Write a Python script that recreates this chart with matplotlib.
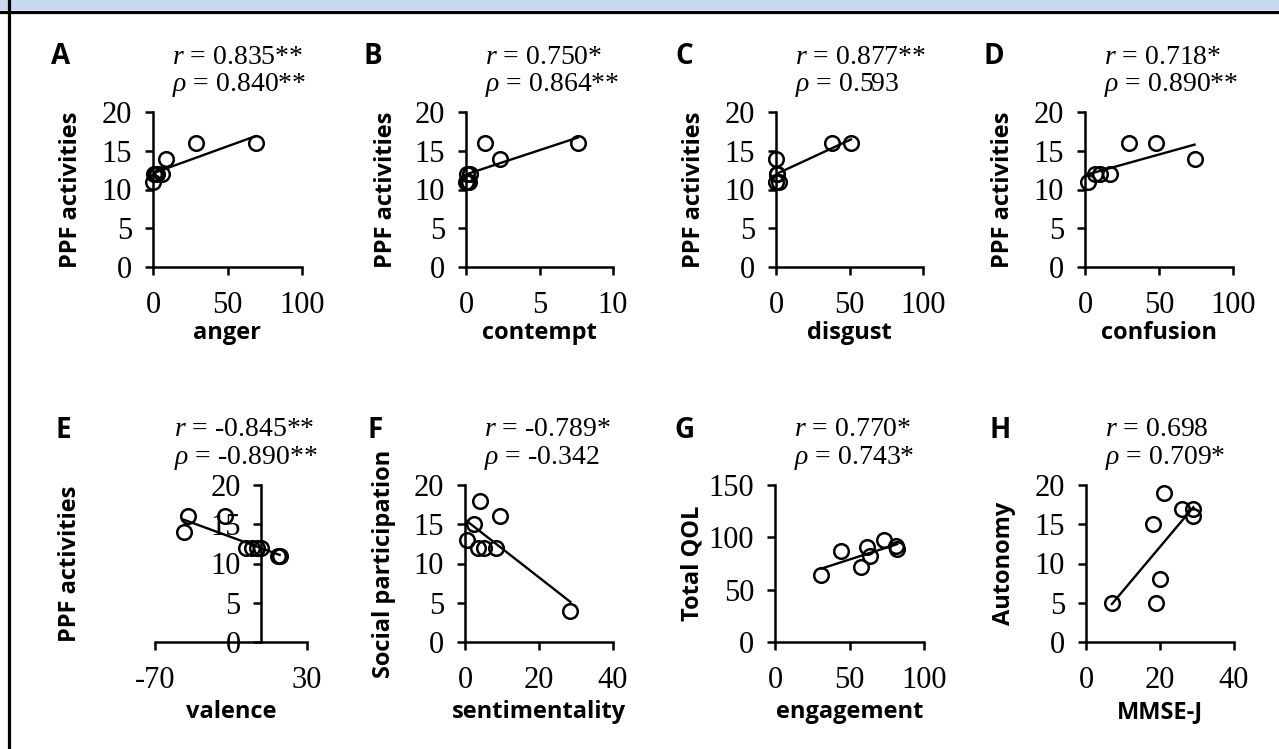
import numpy as np
import matplotlib.pyplot as plt
from matplotlib.patches import Rectangle
from matplotlib.lines import Line2D

plt.rcParams['mathtext.fontset'] = 'custom'
plt.rcParams['mathtext.rm'] = 'Liberation Serif'
plt.rcParams['mathtext.it'] = 'Liberation Serif:italic'
plt.rcParams['axes.unicode_minus'] = False

# panel data
letters = ['A', 'B', 'C', 'D', 'E', 'F', 'G', 'H']
xlabels = ['anger', 'contempt', 'disgust', 'confusion',
           'valence', 'sentimentality', 'engagement', 'MMSE-J']
ylabels = ['PPF activities', 'PPF activities', 'PPF activities', 'PPF activities',
           'PPF activities', 'Social participation', 'Total QOL', 'Autonomy']
r_vals = ['0.835**', '0.750*', '0.877**', '0.718*', '-0.845**', '-0.789*', '0.770*', '0.698']
rho_vals = ['0.840**', '0.864**', '0.593', '0.890**', '-0.890**', '-0.342', '0.743*', '0.709*']

x_anger = [0, 1, 2, 3, 6, 9, 29, 69]
y_anger = [11, 12, 12, 12, 12, 14, 16, 16]
x_contempt = [0, 0.05, 0.1, 0.2, 0.3, 1.3, 2.3, 7.6]
y_contempt = [11, 11, 12, 11, 12, 16, 14, 16]
x_disgust = [0, 0, 0.5, 1, 2, 38, 51]
y_disgust = [14, 11, 12, 12, 11, 16, 16]
x_confusion = [2, 7, 10, 17, 30, 48, 74]
y_confusion = [11, 12, 12, 12, 16, 16, 14]
x_valence = [-51, -48, -24, -10, -6, -3, 0, 11, 12]
y_valence = [14, 16, 16, 12, 12, 12, 12, 11, 11]
x_sentiment = [0.5, 2.3, 3.5, 4.1, 5, 8.3, 9.5, 28.5]
y_social = [13, 15, 12, 18, 12, 12, 16, 4]
x_engagement = [31, 44, 58, 62, 64, 73, 81, 82]
y_qol = [64, 87, 72, 91, 82, 97, 92, 89]
x_mmse = [7, 18, 19, 20, 21, 26, 29, 29]
y_autonomy = [5, 15, 5, 8, 19, 17, 17, 16]

xs = [x_anger, x_contempt, x_disgust, x_confusion, x_valence, x_sentiment, x_engagement, x_mmse]
ys = [y_anger, y_contempt, y_disgust, y_confusion, y_valence, y_social, y_qol, y_autonomy]

xticks = [[0, 50, 100], [0, 5, 10], [0, 50, 100], [0, 50, 100],
          [-70, 30], [0, 20, 40], [0, 50, 100], [0, 20, 40]]
yticks = [[0, 5, 10, 15, 20]] * 6 + [[0, 50, 100, 150], [0, 5, 10, 15, 20]]

W, H = 1279, 749
fig = plt.figure(figsize=(W / 100, H / 100), dpi=100)

# header band and frame
fig.add_artist(Rectangle((0, 1 - 10 / H), 1, 10 / H, transform=fig.transFigure,
                         facecolor='#c6d9f1', edgecolor='none'))
fig.add_artist(Line2D([0, 1], [1 - 11.5 / H] * 2, transform=fig.transFigure, color='black', lw=2.3))
fig.add_artist(Line2D([8.5 / W] * 2, [0, 1], transform=fig.transFigure, color='black', lw=2.3))

# axes boxes in pixels: left, top, width, height
boxes = [(153, 112, 149, 155), (466, 112, 147, 155), (776, 112, 147, 155), (1085, 112, 148, 155),
         (155, 485, 152, 157), (465, 485, 148, 157), (775, 485, 149, 157), (1086, 485, 148, 157)]
letter_x = [51, 364, 675, 984, 56, 367, 674, 989]
ylab_off = [82, 80, 82, 82, 85, 81, 83, 82]

for i in range(8):
    left, top, w, h = boxes[i]
    ax = fig.add_axes([left / W, 1 - (top + h) / H, w / W, h / H])
    x = np.array(xs[i], dtype=float)
    y = np.array(ys[i], dtype=float)
    k, b = np.polyfit(x, y, 1)
    xx = np.array([x.min(), x.max()])
    ax.plot(xx, k * xx + b, color='black', lw=1.7, zorder=2)
    ax.plot(x, y, 'o', ms=10.5, mfc='none', mec='black', mew=1.8, zorder=3, clip_on=False)

    ax.set_xlim(xticks[i][0], xticks[i][-1])
    ax.set_ylim(yticks[i][0], yticks[i][-1])
    ax.set_xticks(xticks[i])
    ax.set_yticks(yticks[i])
    for s in ['top', 'right']:
        ax.spines[s].set_visible(False)
    for s in ['left', 'bottom']:
        ax.spines[s].set_linewidth(1.8)
    if i == 4:
        ax.spines['left'].set_position(('data', 0))
    ax.tick_params(direction='out', length=6, width=1.8, labelsize=22)
    ax.tick_params(axis='x', pad=11)
    ax.tick_params(axis='y', pad=9)
    for lab in ax.get_xticklabels() + ax.get_yticklabels():
        lab.set_fontfamily('Liberation Serif')

    ax.set_xlabel(xlabels[i], fontfamily='Open Sans', fontweight='bold', fontsize=17, va='center')
    ax.xaxis.set_label_coords(0.5, -(66 if i < 4 else 70) / h)
    ax.set_ylabel(ylabels[i], fontfamily='Open Sans', fontweight='bold', fontsize=17, va='center')
    ax.yaxis.set_label_coords(-ylab_off[i] / w, 0.5)

    fig.text((left + 19) / W, 1 - (top - 55) / H, '$r$ = ' + r_vals[i],
             fontfamily='Liberation Serif', fontsize=20, ha='left', va='center')
    fig.text((left + 19) / W, 1 - (top - 27) / H, r'$\rho$ = ' + rho_vals[i],
             fontfamily='Liberation Serif', fontsize=20, ha='left', va='center')
    fig.text(letter_x[i] / W, 1 - (top - 55) / H, letters[i],
             fontfamily='Open Sans', fontweight='bold', fontsize=20, ha='left', va='center')

fig.savefig('out.png', dpi=100)
